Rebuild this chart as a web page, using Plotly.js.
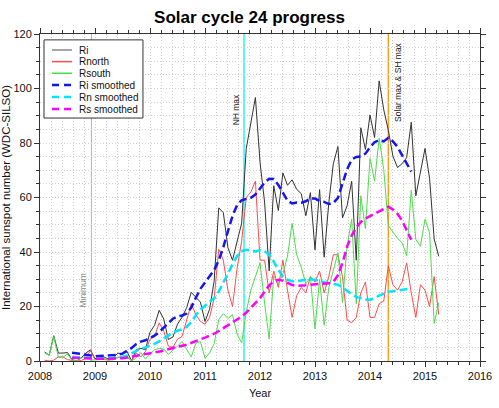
<!DOCTYPE html>
<html><head><meta charset="utf-8">
<script src="https://cdn.plot.ly/plotly-3.0.1.min.js"></script>
<style>html,body{margin:0;padding:0;background:#fff}#chart{width:499px;height:408px}</style>
</head><body><div id="chart"></div>
<script>
// Monthly data, Jan 2008 .. Mar 2015 (plotted at end of month)
const startYear = 2008;
const Ri = [3.3,2.1,9.3,2.9,2.9,3.1,0.5,0.0,1.2,2.9,4.1,0.8,
 1.5,1.4,0.7,1.2,2.9,2.6,3.5,0.0,4.2,4.6,4.2,10.6,
 13.1,18.6,15.4,7.9,8.8,13.5,16.1,19.6,25.2,23.5,21.6,14.5,
 19.0,29.4,56.2,54.4,41.6,37.0,43.9,50.6,78.0,88.0,96.7,73.0,
 58.3,33.1,64.3,55.2,69.0,64.5,66.5,63.0,61.4,53.3,61.8,40.8,
 62.9,38.1,57.9,72.4,78.7,52.5,57.0,66.0,37.0,85.6,77.6,90.3,
 82.0,102.8,92.2,84.7,75.2,71.0,72.4,74.6,87.6,60.6,70.1,78.0,
 67.0,44.8,38.4];
const Rnorth = [0.3,0.0,0.3,1.5,1.5,0.5,0.2,0.0,0.2,1.0,3.8,0.5,
 1.0,0.5,0.3,0.8,1.5,1.8,1.5,0.0,3.0,1.5,3.5,8.0,
 9.0,14.0,11.0,5.5,5.0,8.0,9.0,15.5,21.0,17.0,14.5,13.5,
 16.0,23.0,41.0,37.0,26.0,20.0,34.0,44.0,60.0,62.0,66.0,37.0,
 37.0,25.0,33.0,27.0,37.0,26.0,16.0,24.0,27.0,25.0,31.0,29.0,
 33.0,25.0,31.0,39.0,39.0,31.0,15.0,14.0,16.0,25.0,29.0,16.0,
 16.0,21.0,22.0,35.0,28.0,26.0,29.0,36.0,25.0,16.0,28.0,26.0,
 20.0,31.0,17.0];
const Rsouth = [3.0,2.1,9.0,1.4,1.4,2.6,0.3,0.0,1.0,1.9,0.3,0.3,
 0.5,0.9,0.4,0.4,1.4,0.8,2.0,0.0,1.2,3.1,0.7,2.6,
 4.1,4.6,4.4,2.4,3.8,5.5,7.1,4.1,1.5,6.5,7.1,1.0,
 3.0,6.4,15.2,17.4,15.6,17.0,9.9,6.6,18.0,26.0,30.7,36.0,
 21.3,8.1,31.3,28.2,32.0,38.5,50.5,39.0,34.4,28.3,30.8,11.8,
 29.9,13.1,26.9,33.4,39.7,21.5,42.0,52.0,21.0,60.6,48.6,74.3,
 66.0,81.8,70.2,49.7,47.2,45.0,43.4,38.6,62.6,44.6,42.1,52.0,
 47.0,13.8,21.4];
// 13-month smoothed, Jul 2008 .. Sep 2014
const smoothStartMonth = 7;
const RiSmoothed = [3.0,2.9,2.6,2.3,1.9,1.7,
 1.8,1.9,2.0,2.2,2.3,2.7,3.6,4.8,6.2,7.1,7.6,8.3,
 9.3,10.6,12.3,14.0,15.5,16.4,16.7,17.4,19.6,23.2,26.5,28.8,
 31.0,33.4,36.9,41.8,47.6,53.2,57.2,59.0,59.5,59.9,61.1,63.4,
 65.5,66.9,66.8,64.6,61.7,58.9,57.8,58.2,58.1,58.6,59.7,59.6,
 58.7,58.4,57.6,57.9,59.9,64.9,70.3,73.9,74.9,75.1,76.1,78.4,
 80.3,81.1,80.6,81.9,80.6,78.6,75.7,72.5,69.5];
const RnSmoothed = [1.4,1.3,1.2,1.1,1.0,1.0,
 1.0,1.0,1.1,1.2,1.3,1.5,2.0,2.8,3.8,4.5,5.0,5.6,
 6.3,7.2,8.3,9.4,10.4,11.1,11.6,12.5,14.3,16.8,18.9,20.3,
 21.5,23.0,25.5,28.5,32.0,35.5,38.5,40.3,40.8,40.5,40.2,40.6,
 40.3,39.0,36.5,33.5,31.0,29.8,29.3,29.3,29.5,29.8,30.0,29.8,
 29.3,28.9,28.6,28.4,28.0,27.0,25.7,24.5,23.5,23.0,22.6,22.5,
 23.0,24.0,24.8,25.4,25.6,25.9,26.1,26.4,26.6];
const RsSmoothed = [1.2,1.1,1.0,0.9,0.8,0.8,
 0.8,0.8,0.8,0.9,0.9,1.0,1.3,1.6,2.0,2.3,2.5,2.7,
 3.0,3.3,3.8,4.3,4.8,5.2,5.6,6.0,6.6,7.3,8.0,8.6,
 9.3,10.0,11.0,12.0,13.0,14.0,15.0,16.3,17.8,19.5,21.0,23.0,
 25.5,27.8,29.2,29.8,29.5,28.6,27.9,27.6,27.6,27.8,28.0,28.1,
 28.2,28.3,28.5,29.0,31.5,36.0,42.0,46.0,49.0,51.0,52.3,53.2,
 54.0,55.0,55.9,56.6,55.6,54.0,51.5,48.0,44.5];
// Marked events (decimal year) and labels
const eventX = [2008.935, 2011.71, 2014.333];
const eventY = [26, 92, 102.5];
const eventLabels = ['Minimum', 'NH max', 'Solar max & SH max'];
const seriesNames = ['Ri','Rnorth','Rsouth','Ri smoothed','Rn smoothed','Rs smoothed'];

const tMonthly = Ri.map((_, i) => startYear + (i + 1) / 12);
const tSmooth = RiSmoothed.map((_, i) => startYear + (i + smoothStartMonth) / 12);

const FONT = 'Liberation Sans, Arial, Helvetica, sans-serif';
const colors = ['#333333','#ff4d4d','#4bdd4b','#1515ee','#00e5ff','#ff00ff'];
const widths = [1,1,1,2.5,2.5,2.5];
const dashes = ['solid','solid','solid','8px,4px','8px,4px','8px,4px'];
const ys = [Ri,Rnorth,Rsouth,RiSmoothed,RnSmoothed,RsSmoothed];
const xs = [tMonthly,tMonthly,tMonthly,tSmooth,tSmooth,tSmooth];

const traces = ys.map((y, k) => ({
  type: 'scatter', mode: 'lines', x: xs[k], y: y, name: seriesNames[k],
  line: {color: colors[k], width: widths[k], dash: dashes[k]},
  showlegend: false, hoverinfo: 'skip'
}));

const evColors = ['#aab0e6', '#33f0f0', '#ff9f1a'];
const evWidths = [1, 1.5, 1.5];
const shapes = eventX.map((x, k) => ({
  type: 'line', xref: 'x', yref: 'paper', x0: x, x1: x, y0: 0, y1: 1,
  line: {color: evColors[k], width: evWidths[k]}, layer: 'below'
}));
const annotations = eventX.map((x, k) => ({
  x: x, y: eventY[k], xref: 'x', yref: 'y', text: eventLabels[k], showarrow: false,
  textangle: -90, xanchor: k === 2 ? 'left' : 'right', yanchor: 'middle',
  xshift: k === 2 ? 2 : -1,
  font: {family: FONT, size: 8.5, color: k === 0 ? '#8a8a8a' : '#222'}
}));

// legend box (drawn)
const lgX0 = 0.0091, lgX1 = 0.234, lgY0 = 0.743, lgY1 = 0.982;
shapes.push({type:'rect', xref:'paper', yref:'paper', x0:lgX0, x1:lgX1, y0:lgY0, y1:lgY1,
  line:{color:'#333', width:1}, fillcolor:'#fff', layer:'above'});
const itemY = [0.951,0.9155,0.880,0.844,0.8073,0.7706];
seriesNames.forEach((nm, k) => {
  shapes.push({type:'line', xref:'paper', yref:'paper', x0:0.0273, x1:0.0727, y0:itemY[k], y1:itemY[k],
    line:{color: k===0 ? '#888' : colors[k], width: k<3 ? 1.5 : 2.5, dash: k<3 ? 'solid' : '7px,5px'}, layer:'above'});
  annotations.push({xref:'paper', yref:'paper', x:0.0841, y:itemY[k], text:nm, showarrow:false,
    xanchor:'left', yanchor:'middle', font:{family: FONT, size:10, color:'#111'}});
});

const axisCommon = {
  showline: true, linecolor: '#333', linewidth: 1, mirror: 'allticks',
  ticks: 'outside', ticklen: 5, tickcolor: '#333', tickwidth: 1,
  showgrid: true, gridcolor: '#cfcfcf', griddash: '1px,2px', gridwidth: 1,
  zeroline: false, tickfont: {family: FONT, size: 11, color: '#111'}
};
const layout = {
  width: 499, height: 408,
  margin: {l: 40, r: 19, t: 34, b: 47},
  paper_bgcolor: '#fff', plot_bgcolor: '#fff',
  title: {text: '<b>Solar cycle 24 progress</b>', x: 0.5, xanchor: 'center', y: 0.958, yanchor: 'middle',
    font: {family: FONT, size: 17, color: '#000'}},
  xaxis: Object.assign({}, axisCommon, {range: [2008, 2016], tick0: 2008, dtick: 1,
    minor: {dtick: 0.2, ticks: 'outside', ticklen: 3, tickcolor: '#333', showgrid: true, gridcolor: '#cfcfcf', griddash: '1px,2px'},
    title: {text: 'Year', standoff: 8, font: {family: FONT, size: 11, color: '#111'}}}),
  yaxis: Object.assign({}, axisCommon, {range: [0, 120], tick0: 0, dtick: 20,
    minor: {dtick: 5, ticks: 'outside', ticklen: 3, tickcolor: '#333', showgrid: true, gridcolor: '#cfcfcf', griddash: '1px,2px'},
    title: {text: 'International sunspot number (WDC-SILSO)', standoff: 7, font: {family: FONT, size: 11.5, color: '#111'}}}),
  shapes: shapes, annotations: annotations, showlegend: false
};
Plotly.newPlot('chart', traces, layout, {staticPlot: true, displayModeBar: false});
</script></body></html>
